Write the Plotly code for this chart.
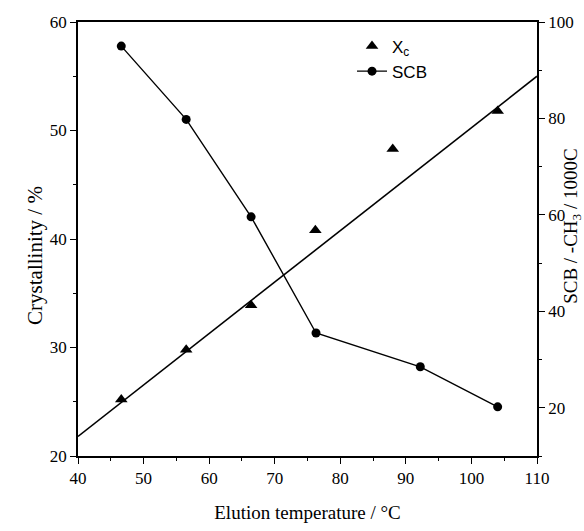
import plotly.graph_objects as go

# Crystallinity (left axis) vs elution temperature
xc_temp = [46.6, 56.5, 66.4, 76.2, 88.0, 104.0]
xc_values = [25.2, 29.8, 33.9, 40.8, 48.3, 51.8]

# Linear trend of crystallinity
fit_temp = [40, 110]
fit_values = [21.8, 55.0]

# Short-chain branching (right axis)
scb_temp = [46.6, 56.5, 66.4, 76.3, 92.2, 104.0]
scb_values = [95.0, 79.8, 59.6, 35.5, 28.5, 20.2]

x_ticks = [40, 50, 60, 70, 80, 90, 100, 110]
left_ticks = [20, 30, 40, 50, 60]
right_ticks = [20, 40, 60, 80, 100]

serif = "Liberation Serif"
sans = "Liberation Sans"

fig = go.Figure()

fig.add_trace(go.Scatter(
    x=fit_temp, y=fit_values, mode="lines",
    line=dict(color="black", width=1.6), showlegend=False, hoverinfo="skip",
))
fig.add_trace(go.Scatter(
    x=xc_temp, y=xc_values, mode="markers", name="X<sub>c</sub>",
    marker=dict(symbol="triangle-up", size=11, color="black"),
))
fig.add_trace(go.Scatter(
    x=scb_temp, y=scb_values, mode="lines+markers", name="SCB", yaxis="y2",
    line=dict(color="black", width=1.4),
    marker=dict(symbol="circle", size=9, color="black"),
))

axis_common = dict(
    showgrid=False, zeroline=False, showline=True, linecolor="black", linewidth=1.6,
    ticks="outside", ticklen=6, tickwidth=1.3, tickcolor="black",
    tickfont=dict(family=serif, size=17, color="black"),
    automargin=False,
)

fig.update_layout(
    width=584, height=531,
    margin=dict(l=78, r=47, t=22, b=75),
    paper_bgcolor="white", plot_bgcolor="white",
    xaxis=dict(
        **axis_common, range=[40, 110], tickvals=x_ticks, mirror=True,
        minor=dict(dtick=5, tick0=0, ticks="outside", ticklen=3, tickcolor="black"),
        title=dict(text="Elution temperature / °C", font=dict(family=serif, size=19, color="black"), standoff=18),
    ),
    yaxis=dict(
        **axis_common, range=[20, 60], tickvals=left_ticks,
        minor=dict(dtick=5, tick0=0, ticks="outside", ticklen=3, tickcolor="black"),
    ),
    yaxis2=dict(
        **axis_common, range=[10, 100], tickvals=right_ticks, overlaying="y", side="right",
        minor=dict(dtick=10, tick0=0, ticks="outside", ticklen=3, tickcolor="black"),
    ),
    legend=dict(
        x=0.597, y=0.985, xanchor="left", yanchor="top",
        bgcolor="rgba(0,0,0,0)", font=dict(family=sans, size=17, color="black"),
        itemwidth=30, tracegroupgap=4,
    ),
    showlegend=True,
    annotations=[
        dict(text="Crystallinity / %", xref="paper", yref="paper", x=-0.094, y=0.463,
             textangle=-90, showarrow=False, xanchor="center", yanchor="middle",
             font=dict(family=serif, size=21, color="black")),
        dict(text="SCB / -CH<sub>3</sub> / 1000C", xref="paper", yref="paper", x=1.076, y=0.53,
             textangle=-90, showarrow=False, xanchor="center", yanchor="middle",
             font=dict(family=serif, size=19, color="black")),
    ],
)

fig.write_html("out.html")
